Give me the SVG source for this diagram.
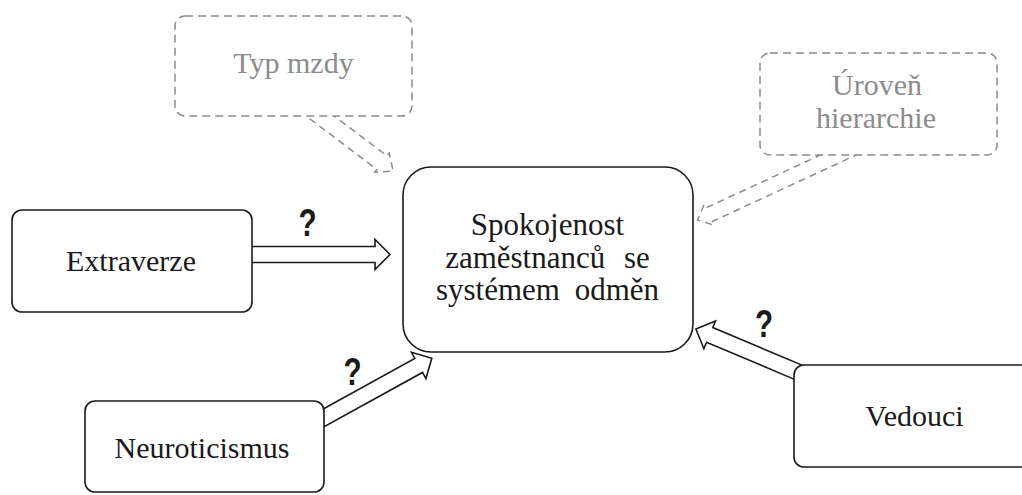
<svg xmlns="http://www.w3.org/2000/svg" width="1022" height="495" viewBox="0 0 1022 495">
  <style>
    .node rect { fill: #ffffff; stroke: #1a1a1a; stroke-width: 1.6; }
    .dnode rect { fill: #ffffff; stroke: #8c8c8c; stroke-width: 1.5; stroke-dasharray: 8 5; }
    .t { font-family: "Liberation Serif", "Times New Roman", serif; font-size: 30px; fill: #1a1a1a; text-anchor: middle; }
    .tg { fill: #8c8c8c; }
    .arrow { fill: #ffffff; stroke: #1a1a1a; stroke-width: 1.6; stroke-linejoin: miter; }
    .darrow { fill: #ffffff; stroke: #8c8c8c; stroke-width: 1.5; stroke-dasharray: 7 5; }
    .q { font-family: "Liberation Sans", Arial, sans-serif; font-weight: bold; font-size: 38px; fill: #1a1a1a; text-anchor: middle; }
  </style>
  <rect x="0" y="0" width="1022" height="495" fill="#ffffff"/>

  <g id="connectors">
    <polygon class="darrow" transform="translate(306.2,105.4) rotate(37.1)" points="0,-8.5 95,-8.5 95,-12 109,0 95,12 95,8.5 0,8.5"/>
    <polygon class="darrow" transform="translate(856.5,146.6) rotate(155.2)" points="0,-7.5 163,-7.5 163,-11 175,0 163,11 163,7.5 0,7.5"/>
    <polygon class="arrow" transform="translate(248,254.5)" points="0,-8 127,-8 127,-15 142,0 127,15 127,8 0,8"/>
    <polygon class="arrow" transform="translate(318,421) rotate(-28.9)" points="0,-8 115,-8 115,-15 130,0 115,15 115,8 0,8"/>
    <polygon class="arrow" transform="translate(800,373) rotate(-157.1)" points="0,-8 98,-8 98,-15 113,0 98,15 98,8 0,8"/>
    <text class="q" transform="translate(307.5,236) scale(0.78,1)">?</text>
    <text class="q" transform="translate(352.5,385) scale(0.78,1)">?</text>
    <text class="q" transform="translate(764,336.5) scale(0.78,1)">?</text>
  </g>

  <g id="typ-mzdy" class="dnode">
    <rect x="175" y="16" width="237" height="100" rx="10"/>
    <text class="t tg" x="293.5" y="73">Typ mzdy</text>
  </g>

  <g id="uroven-hierarchie" class="dnode">
    <rect x="760" y="53" width="237" height="102" rx="10"/>
    <text class="t tg" x="877" y="95">Úroveň</text>
    <text class="t tg" x="876" y="128">hierarchie</text>
  </g>

  <g id="spokojenost" class="node">
    <rect x="403" y="167" width="290" height="185" rx="28"/>
    <text class="t" x="547.5" y="235" style="font-size:31px">Spokojenost</text>
    <text class="t" x="547.5" y="268" style="font-size:31px" word-spacing="11">zaměstnanců se</text>
    <text class="t" x="547.5" y="300" style="font-size:31px" word-spacing="7">systémem odměn</text>
  </g>

  <g id="extraverze" class="node">
    <rect x="12" y="210" width="240" height="102" rx="10"/>
    <text class="t" x="131" y="271">Extraverze</text>
  </g>

  <g id="neuroticismus" class="node">
    <rect x="85" y="401" width="239" height="91" rx="10"/>
    <text class="t" x="202" y="458">Neuroticismus</text>
  </g>

  <g id="vedouci" class="node">
    <rect x="794" y="365" width="240" height="102" rx="10"/>
    <text class="t" x="914.5" y="426">Vedouci</text>
  </g>
</svg>
